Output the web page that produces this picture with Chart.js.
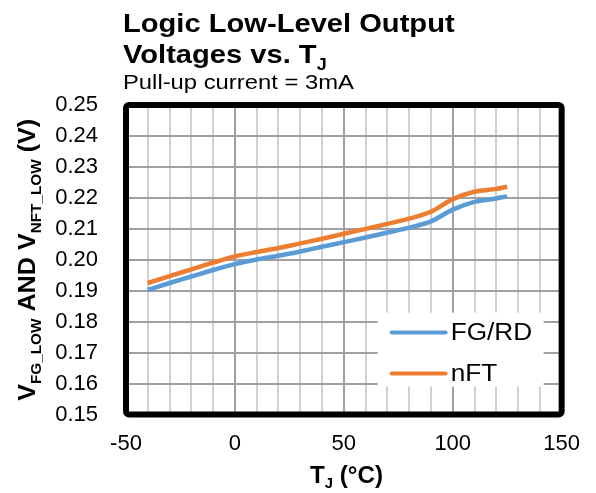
<!DOCTYPE html>
<html>
<head>
<meta charset="utf-8">
<script src="https://cdn.jsdelivr.net/npm/chart.js@4/dist/chart.umd.min.js"></script>
<style>
  html, body { margin: 0; padding: 0; background: #ffffff; }
  #wrap { width: 596px; height: 493px; position: relative; }
</style>
</head>
<body>
<div id="wrap"><canvas id="chart" width="596" height="493"></canvas></div>
<script>
// Junction temperature (°C) at which the output low level was measured
const temperatures = [-40, -30, -20, -10, 0, 10, 20, 30, 40, 50, 60, 70, 80, 90, 100, 110, 120, 125];
// Low-level output voltage (V), FG/RD pin
const fgRdVolts = [0.1903, 0.1925, 0.1946, 0.1967, 0.1986, 0.2001, 0.2013, 0.2027, 0.2042, 0.2057,
                   0.2072, 0.2088, 0.2104, 0.2124, 0.2162, 0.2187, 0.2198, 0.2205];
// Low-level output voltage (V), nFT pin
const nftVolts = [0.1925, 0.1947, 0.1969, 0.1991, 0.2011, 0.2025, 0.2038, 0.2053, 0.2068, 0.2084,
                  0.2100, 0.2116, 0.2133, 0.2155, 0.2196, 0.2220, 0.2229, 0.2236];
const seriesNames = ['FG/RD', 'nFT'];
const seriesColors = ['#5B9BD5', '#ED7D31'];
// Labelled x positions (grid every 10 °C)
const xLabelValues = [-50, 0, 50, 100, 150];

const FONT = '"Liberation Sans", Arial, sans-serif';

function toPoints(ys) {
  return temperatures.map((t, i) => ({ x: t, y: ys[i] }));
}

// Draws a run of text pieces (main text and subscripts) with a horizontal stretch
function drawRich(ctx, parts, sx) {
  ctx.save();
  ctx.scale(sx, 1);
  let cx = 0;
  for (const p of parts) {
    ctx.font = p.font;
    ctx.fillText(p.t, cx, p.dy || 0);
    cx += ctx.measureText(p.t).width;
  }
  ctx.restore();
}
function richWidth(ctx, parts) {
  let w = 0;
  ctx.save();
  for (const p of parts) { ctx.font = p.font; w += ctx.measureText(p.t).width; }
  ctx.restore();
  return w;
}

const decorations = {
  id: 'decorations',
  afterDraw(chart) {
    const ctx = chart.ctx;
    const a = chart.chartArea;

    // heavy plot frame
    ctx.save();
    ctx.strokeStyle = '#000';
    ctx.lineWidth = 6;
    ctx.lineJoin = 'round';
    ctx.beginPath();
    ctx.roundRect(a.left, a.top, a.right - a.left, a.bottom - a.top, 3);
    ctx.stroke();
    ctx.restore();

    // legend inside the plot, lower right
    ctx.save();
    const lx = a.right - 184, ly = a.bottom - 102, lw = 166, lh = 74;
    ctx.fillStyle = '#fff';
    ctx.fillRect(lx, ly, lw, lh);
    chart.data.datasets.forEach((ds, i) => {
      const y = ly + 20 + i * 41;
      ctx.strokeStyle = ds.borderColor;
      ctx.lineWidth = 4;
      ctx.lineCap = 'round';
      ctx.beginPath();
      ctx.moveTo(lx + 14, y);
      ctx.lineTo(lx + 68, y);
      ctx.stroke();
      ctx.fillStyle = '#000';
      ctx.textBaseline = 'middle';
      ctx.save();
      ctx.translate(lx + 73, y + 1);
      drawRich(ctx, [{ t: ds.label, font: '23px ' + FONT }], 1.14);
      ctx.restore();
    });
    ctx.restore();

    // title block
    ctx.save();
    ctx.fillStyle = '#000';
    ctx.textBaseline = 'alphabetic';
    ctx.save(); ctx.translate(123, 32);
    drawRich(ctx, [{ t: 'Logic Low-Level Output', font: 'bold 26px ' + FONT }], 1.12);
    ctx.restore();
    ctx.save(); ctx.translate(123, 63);
    drawRich(ctx, [{ t: 'Voltages vs. T', font: 'bold 26px ' + FONT },
                   { t: 'J', font: 'bold 16px ' + FONT, dy: 7 }], 1.12);
    ctx.restore();
    ctx.save(); ctx.translate(123, 89);
    drawRich(ctx, [{ t: 'Pull-up current = 3mA', font: '20px ' + FONT }], 1.19);
    ctx.restore();

    // y-axis title, reading upward, centred on the plot
    const yParts = [
      { t: 'V', font: 'bold 23px ' + FONT },
      { t: 'FG_LOW', font: 'bold 14px ' + FONT, dy: 6 },
      { t: ' AND V', font: 'bold 23px ' + FONT },
      { t: 'NFT_LOW', font: 'bold 14px ' + FONT, dy: 6 },
      { t: ' (V)', font: 'bold 23px ' + FONT }
    ];
    const yLen = 282;
    ctx.save();
    ctx.translate(35, (a.top + a.bottom) / 2 + yLen / 2);
    ctx.rotate(-Math.PI / 2);
    drawRich(ctx, yParts, yLen / richWidth(ctx, yParts));
    ctx.restore();

    // x-axis title
    const xParts = [
      { t: 'T', font: 'bold 23px ' + FONT },
      { t: 'J', font: 'bold 14px ' + FONT, dy: 5 },
      { t: ' (°C)', font: 'bold 23px ' + FONT }
    ];
    ctx.save();
    ctx.translate(310, 483);
    drawRich(ctx, xParts, 73 / richWidth(ctx, xParts));
    ctx.restore();
    ctx.restore();
  }
};

new Chart(document.getElementById('chart'), {
  type: 'line',
  data: {
    datasets: [
      { label: seriesNames[0], data: toPoints(fgRdVolts), borderColor: seriesColors[0] },
      { label: seriesNames[1], data: toPoints(nftVolts), borderColor: seriesColors[1] }
    ]
  },
  options: {
    responsive: false,
    devicePixelRatio: 1,
    animation: false,
    layout: { padding: { left: 0, right: 30, top: 105, bottom: 0 } },
    elements: {
      point: { radius: 0 },
      line: { borderWidth: 4.5, cubicInterpolationMode: 'monotone', borderCapStyle: 'butt' }
    },
    plugins: { legend: { display: false }, title: { display: false }, tooltip: { enabled: false } },
    scales: {
      x: {
        type: 'linear',
        min: -50, max: 150,
        afterFit(scale) { scale.height = 78.4; },
        border: { display: false },
        grid: {
          drawTicks: false,
          lineWidth: 2,
          color: (c) => (xLabelValues.includes(c.tick.value) ? '#a0a0a0' : '#d0d0d0')
        },
        ticks: {
          stepSize: 10,
          autoSkip: false,
          maxRotation: 0,
          padding: 16,
          color: '#000',
          font: { family: FONT, size: 22 },
          callback: (v) => (xLabelValues.includes(v) ? String(v) : '')
        }
      },
      y: {
        min: 0.15, max: 0.25,
        afterFit(scale) { scale.width = 126; },
        border: { display: false },
        grid: { drawTicks: false, lineWidth: 2, color: '#a0a0a0' },
        ticks: {
          stepSize: 0.01,
          padding: 28,
          color: '#000',
          font: { family: FONT, size: 22 },
          callback: (v) => Number(v).toFixed(2)
        }
      }
    }
  },
  plugins: [decorations]
});
</script>
</body>
</html>
